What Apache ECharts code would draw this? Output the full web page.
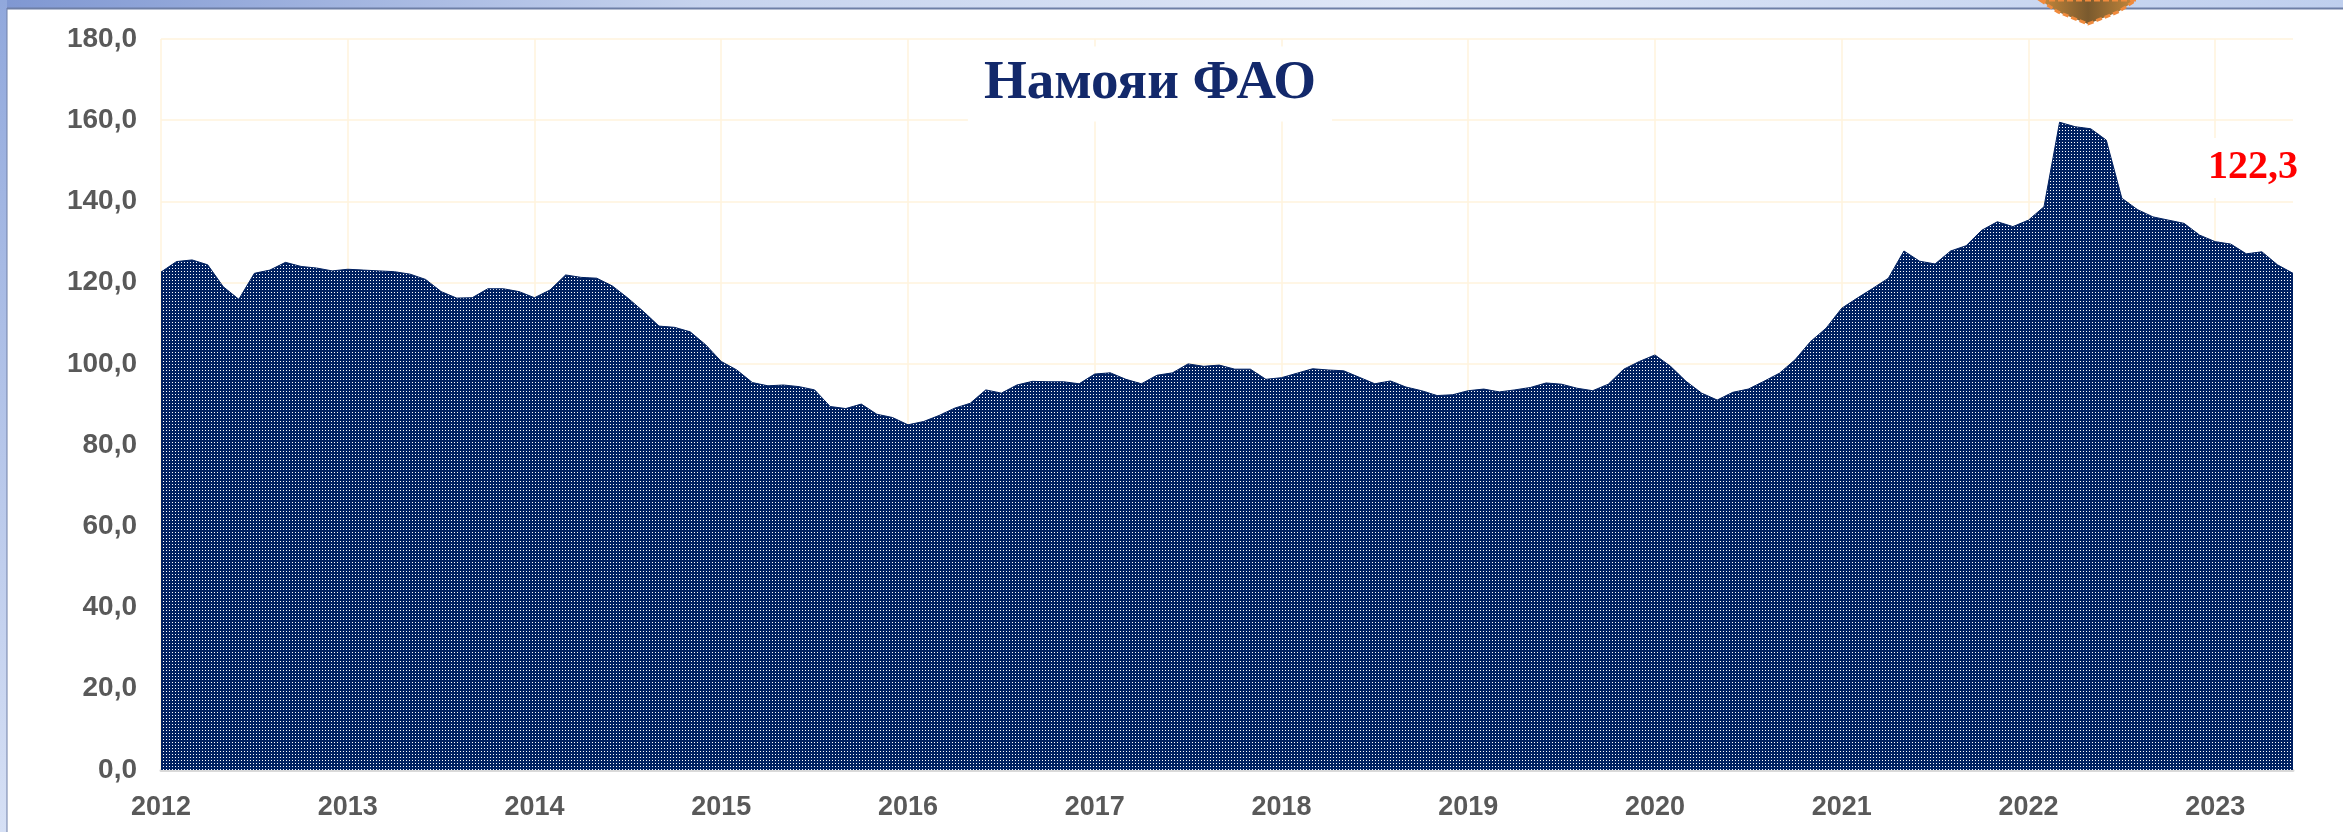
<!DOCTYPE html>
<html>
<head>
<meta charset="utf-8">
<script src="https://cdn.jsdelivr.net/npm/echarts@6/dist/echarts.min.js"></script>
<style>
  html, body { margin: 0; padding: 0; background: #ffffff; }
  #chart { width: 2343px; height: 832px; }
</style>
</head>
<body>
<div id="chart"></div>
<script>
// ============ 数据 ============
const years = ['2012', '2013', '2014', '2015', '2016', '2017', '2018', '2019', '2020', '2021', '2022', '2023']

// FAO food price index, monthly, Jan 2012 – Jun 2023
const fpiValues = [
  122.6, 125.2, 125.6, 124.4, 119.0, 115.9, 122.3, 123.1, 125.0, 124.0, 123.6, 122.9,
  123.3, 123.1, 122.9, 122.7, 122.1, 120.8, 117.8, 116.2, 116.3, 118.5, 118.5, 117.8,
  116.3, 118.2, 121.9, 121.3, 121.1, 119.2, 116.2, 112.9, 109.3, 109.0, 107.9, 104.7,
  100.6, 98.5, 95.4, 94.6, 94.8, 94.4, 93.6, 89.5, 89.0, 90.1, 87.6, 86.8,
  85.0, 85.8, 87.3, 89.1, 90.3, 93.6, 92.8, 94.8, 95.7, 95.6, 95.6, 95.1,
  97.5, 97.8, 96.2, 95.1, 97.2, 97.8, 100.0, 99.4, 99.7, 98.7, 98.7, 96.2,
  96.6, 97.7, 98.8, 98.5, 98.3, 96.7, 95.1, 95.8, 94.3, 93.4, 92.2, 92.4,
  93.4, 93.8, 93.1, 93.6, 94.2, 95.3, 95.0, 94.0, 93.4, 95.0, 98.7, 100.6,
  102.2, 99.4, 95.7, 92.8, 91.1, 93.0, 93.8, 95.7, 97.7, 101.0, 105.5, 108.8,
  113.7, 116.2, 118.6, 121.1, 127.8, 125.3, 124.6, 127.8, 129.1, 132.9, 135.0, 133.8,
  135.4, 138.7, 159.5, 158.4, 157.9, 155.1, 140.8, 138.0, 136.2, 135.4, 134.6, 131.7,
  130.1, 129.5, 127.1, 127.6, 124.4, 122.3
]

const chartTitle = 'Намояи ФАО'

// категории: год-месяц
const categories = []
years.forEach(y => {
  for (let m = 1; m <= 12; m++) {
    if (categories.length < fpiValues.length) categories.push(y + '-' + m)
  }
})

const lastLabel = fpiValues[fpiValues.length - 1].toFixed(1).replace('.', ',')

// ============ 样式 ============
const COLORS = {
  fill: '#002060',
  text: '#595959',
  grid: '#fff3dc',
  axis: '#d9d9d9',
  title: '#13296b',
  red: '#ff0000'
}
const AXIS_FONT = "'Liberation Sans', Arial, sans-serif"

// dotted pattern for the area
function makePattern() {
  const c = document.createElement('canvas')
  c.width = 3
  c.height = 3
  const ctx = c.getContext('2d')
  ctx.fillStyle = COLORS.fill
  ctx.fillRect(0, 0, 3, 3)
  ctx.fillStyle = '#ffffff'
  ctx.fillRect(1, 1, 1, 1)
  return c
}

const chart = echarts.init(document.getElementById('chart'), null, { renderer: 'canvas' })

const option = {
  animation: false,
  backgroundColor: '#ffffff',
  grid: { left: 161, right: 50, top: 39, bottom: 62 },
  graphic: [
    // slide frame
    {
      type: 'rect', z: 100,
      shape: { x: 0, y: 0, width: 2343, height: 8 },
      style: {
        fill: new echarts.graphic.LinearGradient(0, 0, 1, 0, [
          { offset: 0, color: '#7f97d2' },
          { offset: 0.3, color: '#c6d3ee' },
          { offset: 0.6, color: '#dfe7f7' },
          { offset: 1, color: '#bfcfee' }
        ])
      }
    },
    {
      type: 'rect', z: 100,
      shape: { x: 0, y: 0, width: 7, height: 832 },
      style: {
        fill: new echarts.graphic.LinearGradient(0, 0, 0, 1, [
          { offset: 0, color: '#91a8dc' },
          { offset: 1, color: '#d6e0f5' }
        ])
      }
    },
    {
      type: 'line', z: 101,
      shape: { x1: 7, y1: 8.5, x2: 2343, y2: 8.5 },
      style: { stroke: '#6e7fa6', lineWidth: 2 }
    },
    {
      type: 'line', z: 101,
      shape: { x1: 7, y1: 8, x2: 7, y2: 832 },
      style: { stroke: '#6e7fa6', lineWidth: 1 }
    },
    // emblem at the top edge
    {
      type: 'polygon', z: 102,
      shape: { points: [[2040, 0], [2136, 0], [2118, 12], [2088, 24], [2058, 12]] },
      style: {
        fill: new echarts.graphic.LinearGradient(0, 0, 1, 0, [
          { offset: 0, color: '#c98a3c' },
          { offset: 0.5, color: '#7a5a2e' },
          { offset: 1, color: '#c98a3c' }
        ]),
        stroke: '#f08a3c', lineWidth: 3, lineDash: [6, 3]
      }
    },
    // title
    {
      type: 'text', z: 50,
      style: {
        text: chartTitle,
        x: 1150, y: 84,
        align: 'center', verticalAlign: 'middle',
        font: "bold 55px 'Liberation Serif', 'Times New Roman', serif",
        fill: COLORS.title,
        backgroundColor: '#ffffff',
        padding: [10, 16]
      }
    },
    // last value
    {
      type: 'text', z: 50,
      style: {
        text: lastLabel,
        x: 2253, y: 168,
        align: 'center', verticalAlign: 'middle',
        font: "bold 40px 'Liberation Serif', 'Times New Roman', serif",
        fill: COLORS.red,
        backgroundColor: '#ffffff',
        padding: [10, 12]
      }
    }
  ],
  xAxis: {
    type: 'category',
    data: categories,
    boundaryGap: false,
    axisLine: { show: true, lineStyle: { color: COLORS.axis, width: 3 } },
    axisTick: { show: false },
    axisLabel: {
      interval: (index) => index % 12 === 0,
      formatter: (value) => value.slice(0, 4),
      color: COLORS.text,
      fontFamily: AXIS_FONT,
      fontWeight: 'bold',
      fontSize: 27,
      margin: 24
    },
    splitLine: {
      show: true,
      interval: (index) => index % 12 === 0,
      lineStyle: { color: COLORS.grid, width: 1.5 }
    }
  },
  yAxis: {
    type: 'value',
    min: 0,
    max: 180,
    interval: 20,
    axisLine: { show: false },
    axisTick: { show: false },
    axisLabel: {
      formatter: (v) => v.toFixed(1).replace('.', ','),
      color: COLORS.text,
      fontFamily: AXIS_FONT,
      fontWeight: 'bold',
      fontSize: 28,
      margin: 24
    },
    splitLine: { lineStyle: { color: COLORS.grid, width: 1.5 } }
  },
  series: [
    {
      name: chartTitle,
      type: 'line',
      data: fpiValues,
      symbol: 'none',
      z: 3,
      lineStyle: { color: COLORS.fill, width: 1 },
      areaStyle: { color: { image: makePattern(), repeat: 'repeat' }, opacity: 1 }
    }
  ]
}

chart.setOption(option)
</script>
</body>
</html>
